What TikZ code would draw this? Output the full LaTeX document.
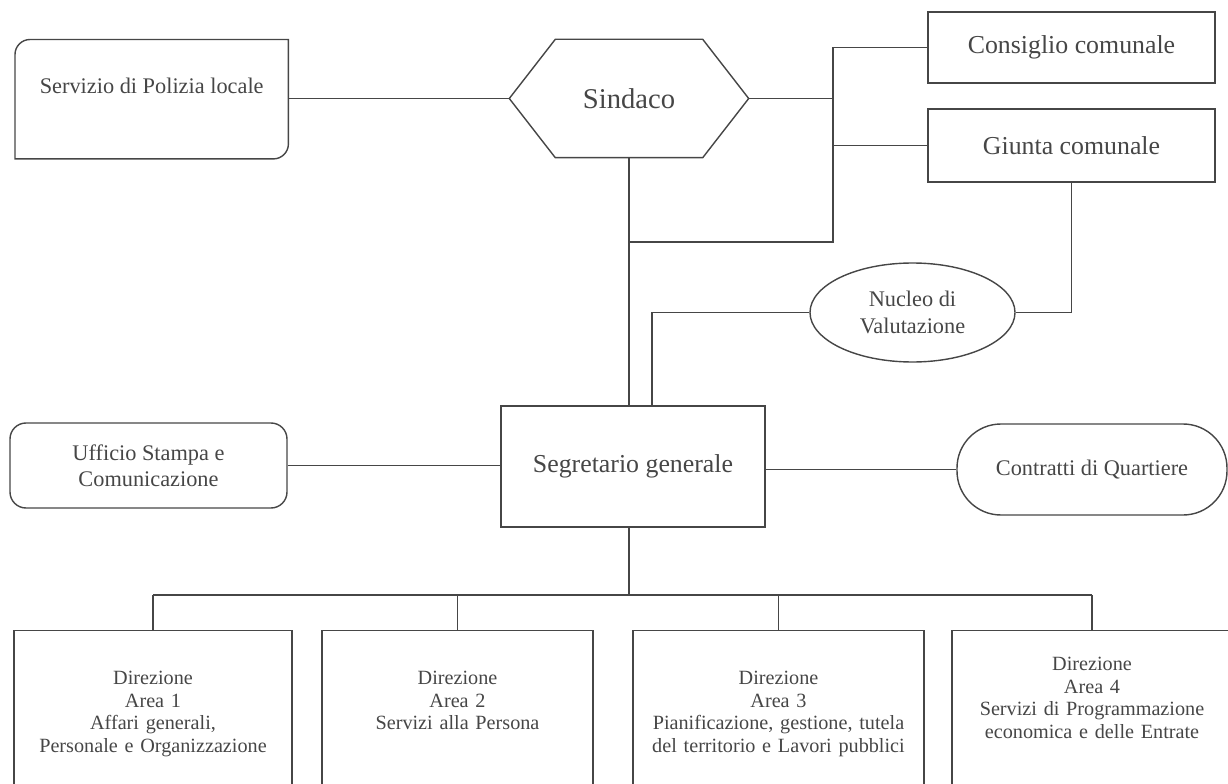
\documentclass[tikz,border=0pt]{standalone}
\usepackage{fontspec}
\setmainfont{Liberation Serif}
\usetikzlibrary{shapes.geometric, calc}
\definecolor{inkgray}{RGB}{70, 70, 70}

\begin{document}
\begin{tikzpicture}[line width=0.8pt, color=inkgray,
    box/.style={rectangle, draw, inner sep=0pt},
    roundbox/.style={rectangle, draw, rounded corners=0.32cm, inner sep=0pt},
    areabox/.style={rectangle, draw, inner sep=0pt, align=center, anchor=north,
      text depth=2.4cm, font=\fontsize{11.5}{12.8}\selectfont},
    bigfont/.style={font=\fontsize{14.7}{17}\selectfont},
    midfont/.style={font=\fontsize{12.7}{15}\selectfont}]
  \useasboundingbox (0,0) rectangle (24.56,15.66);
  \clip (0,0) rectangle (24.56,15.66);

  % top row
  \node[midfont, inner sep=0pt, minimum width=5.44cm, text height=1.06cm, text depth=1.30cm,
    anchor=north west] (pol) at (0.30,14.87) {Servizio di Polizia locale};
  \node[font=\fontsize{16.3}{19}\selectfont, minimum width=4.76cm, minimum height=2.34cm] (sin) at (12.58,13.69) {Sindaco};
  \node[box, bigfont, minimum width=5.74cm, minimum height=1.42cm] (cons) at (21.43,14.71) {Consiglio comunale};
  \node[box, bigfont, minimum width=5.74cm, minimum height=1.46cm] (giu) at (21.43,12.75) {Giunta comunale};
  \node[ellipse, draw, midfont, align=center, inner sep=0pt, minimum width=4.10cm, minimum height=1.98cm] (nuc) at (18.25,9.41) {Nucleo di\\Valutazione};

  % middle row
  \node[box, bigfont, minimum width=5.28cm, minimum height=2.42cm] (seg) at (12.66,6.33) {Segretario generale};
  \node[roundbox, midfont, align=center, minimum width=5.54cm, minimum height=1.70cm] (uff) at (2.97,6.35) {Ufficio Stampa e\\Comunicazione};
  \node[box, midfont, rounded corners=0.88cm, minimum width=5.40cm, minimum height=1.82cm] (con) at (21.84,6.27) {Contratti di Quartiere};

  % aree
  \node[areabox, text width=5.56cm, text height=1.08cm] (d1) at (3.06,3.06) {Direzione\\Area 1\\Affari generali,\\Personale e Organizzazione};
  \node[areabox, text width=5.42cm, text height=1.08cm] (d2) at (9.15,3.06) {Direzione\\Area 2\\Servizi alla Persona};
  \node[areabox, text width=5.82cm, text height=1.08cm] (d3) at (15.57,3.06) {Direzione\\Area 3\\Pianificazione, gestione, tutela\\del territorio e Lavori pubblici};
  \node[areabox, text width=5.60cm, text height=0.80cm] (d4) at (21.84,3.06) {Direzione\\Area 4\\Servizi di Programmazione\\economica e delle Entrate};

  % outlines
  \draw (pol.north east) -- ([yshift=0.3cm]pol.south east) arc[start angle=0, end angle=-90, radius=0.3cm]
    -- (pol.south west) -- ([yshift=-0.3cm]pol.north west) arc[start angle=180, end angle=90, radius=0.3cm] -- cycle;
  \draw (sin.west) -- ([xshift=0.92cm]sin.north west) -- ([xshift=-0.92cm]sin.north east) -- (sin.east)
    -- ([xshift=-0.92cm]sin.south east) -- ([xshift=0.92cm]sin.south west) -- cycle;

  % connectors
  \coordinate (rbus) at (16.66,10.82);
  \coordinate (bus) at (12.58,3.76);
  \draw (pol.east |- sin.west) -- (sin.west);
  \draw (sin.east) -- (sin.east -| rbus);
  \draw (cons.west) -- (cons.west -| rbus) -- (rbus) -- (rbus -| sin.south);
  \draw (giu.west) -- (giu.west -| rbus);
  \draw (sin.south) -- (sin.south |- seg.north);
  \draw (giu.south) |- (nuc.east);
  \draw (nuc.west) -| ([xshift=0.38cm]seg.north);
  \draw (uff.east) -- (uff.east -| seg.west);
  \draw (seg.east |- con.west) -- (con.west);
  \draw (sin.south |- seg.south) -- (bus);
  \draw (d1.north |- bus) -- (d4.north |- bus);
  \foreach \d in {d1,d2,d3,d4}
    \draw (\d.north) -- (\d.north |- bus);
\end{tikzpicture}
\end{document}
